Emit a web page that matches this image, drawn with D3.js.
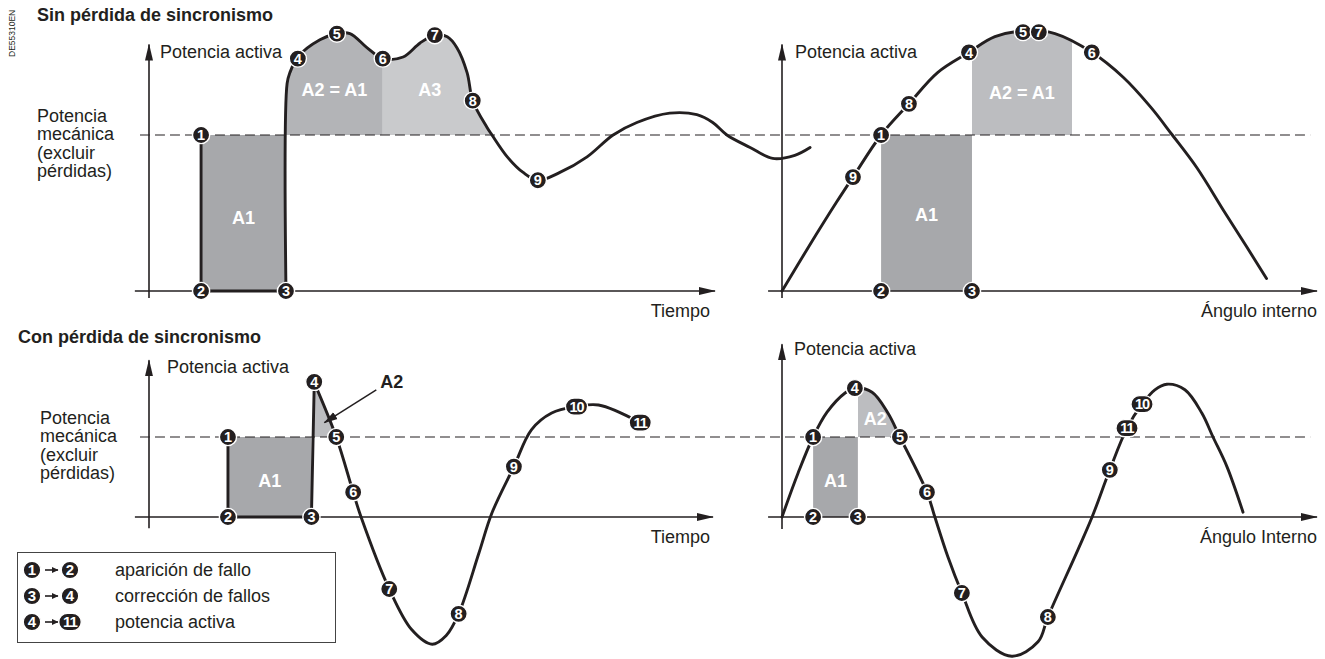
<!DOCTYPE html>
<html><head><meta charset="utf-8">
<script src="https://cdn.jsdelivr.net/npm/d3@7"></script>
<style>
body{margin:0;background:#fff}
svg{display:block}
text{font-family:"Liberation Sans",Arial,Helvetica,sans-serif;fill:#231f20}
</style>
</head><body>
<svg id="chart" width="1325" height="659"></svg>
<script>
// ---------------- DATA ----------------
// Top-left: power vs time, no loss of synchronism (t in arbitrary units, P in p.u. of mechanical power)
const tlEdge  = [[9.2,1],[9.2,0],[24.2,0]];
const tlCurve = [[24.2,0],[24.4,1.33],[24.9,1.40],[26.3,1.50],[30.2,1.61],[33.2,1.65],[35.5,1.65],[38.5,1.56],[41.3,1.49],[44.9,1.50],[47.9,1.59],[50.5,1.64],[52.7,1.63],[54.4,1.56],[56.2,1.40],[57.2,1.22],[59.7,1.05],[60.6,1.0],[63.3,0.86],[66.1,0.76],[68.7,0.71],[72.6,0.76],[77.4,0.86],[82.0,1.0],[86.2,1.08],[92.0,1.14],[96.8,1.13],[99.6,1.08],[102.1,1.0],[106.2,0.92],[110.2,0.85],[114.1,0.87],[116.8,0.92]];
const tlMarkers = [["1",9.2,1],["2",9.2,0],["3",24.2,0],["4",26.3,1.49],["5",33.2,1.65],["6",41.3,1.49],["7",50.5,1.64],["8",57.2,1.22],["9",68.7,0.71]];
const tlA1 = [9.2,24.2];          // t range of A1
const tlA2 = [24.2,41.3];         // t range of A2 = A1
const tlA3 = [41.3,60.6];         // t range of A3

// Top-right: power vs internal angle (degrees)
const trCurve = [[0,0],[10,0.29],[20,0.57],[26,0.73],[36.3,1.0],[46.5,1.2],[57,1.40],[68.5,1.53],[78,1.63],[90,1.67],[100,1.65],[113.5,1.53],[125,1.37],[135,1.18],[143,1.0],[152,0.79],[162,0.51],[170,0.29],[177.5,0.08]];
const trMarkers = [["9",26,0.73],["1",36.3,1.0],["8",46.5,1.2],["4",68.5,1.53],["5",88.3,1.66],["7",94.1,1.66],["6",113.5,1.53],["2",36.3,0],["3",69.6,0]];
const trA1 = [36.3,69.6];
const trA2 = [69.6,106.2];

// Bottom-left: power vs time, loss of synchronism
const blEdge  = [[14.0,1],[14.0,0],[28.8,0],[29.3,1.68]];
const blCurve = [[29.3,1.68],[33.2,1.0],[36.2,0.31],[37.6,0],[42.6,-0.90],[46.6,-1.41],[50.2,-1.59],[52.7,-1.48],[54.9,-1.21],[58.5,-0.45],[60.8,0.05],[64.7,0.63],[67.8,1.09],[71.4,1.30],[75.8,1.38],[79.7,1.40],[87.1,1.18]];
const blMarkers = [["1",14.0,1],["2",14.0,0],["3",28.8,0],["4",29.3,1.69],["5",33.2,1.0],["6",36.2,0.31],["7",42.6,-0.90],["8",54.9,-1.21],["9",64.7,0.63],["10",75.8,1.38],["11",87.1,1.18]];
const blA1 = [14.0,28.8];
const blA2 = [[29.1,1],[29.3,1.68],[33.2,1.0]];
const blArrow = [[40.3,1.59],[31.1,1.18]];

// Bottom-right: power vs internal angle, loss of synchronism
const brCurve = [[0,0],[5.9,0.55],[11.4,1.0],[16.5,1.31],[23.1,1.55],[26.7,1.61],[33.0,1.56],[38.8,1.30],[43.2,1.0],[53.1,0.31],[56.0,0],[60.8,-0.5],[65.9,-0.95],[73.3,-1.5],[84.2,-1.74],[93.8,-1.56],[97.4,-1.25],[108.4,-0.41],[113.6,0],[120.1,0.59],[126.4,1.11],[131.9,1.41],[136.6,1.59],[141.0,1.66],[147.6,1.59],[153.8,1.30],[157.9,1.0],[163.0,0.63],[168.9,0.06]];
const brMarkers = [["1",11.4,1],["2",11.4,0],["3",27.8,0],["4",26.7,1.61],["5",43.2,1.0],["6",53.1,0.31],["7",65.9,-0.95],["8",97.4,-1.25],["9",120.1,0.59],["11",126.4,1.11],["10",131.9,1.41]];
const brA1 = [11.4,27.8];
const brA2 = [27.8,43.2];

// Texts
const titles = ["Sin pérdida de sincronismo","Con pérdida de sincronismo"];
const yLabel = "Potencia activa";
const mechLabel = ["Potencia","mecánica","(excluir","pérdidas)"];
const xLabels = ["Tiempo","Ángulo interno","Tiempo","Ángulo Interno"];
const legendRows = [["1","2","aparición de fallo"],["3","4","corrección de fallos"],["4","11","potencia activa"]];
const docCode = "DE55310EN";

// ---------------- DRAWING ----------------
const svg = d3.select("#chart");
const INK = "#231f20";
svg.append("rect").attr("width",1325).attr("height",659).attr("fill","#fff");

const defs = svg.append("defs");
defs.append("marker").attr("id","ah").attr("markerUnits","userSpaceOnUse")
  .attr("viewBox","0 -5 17 10").attr("refX",16).attr("refY",0)
  .attr("markerWidth",17).attr("markerHeight",10).attr("orient","auto")
  .append("path").attr("d","M0,-4L17,0L0,4Z").attr("fill",INK);
defs.append("marker").attr("id","ahs").attr("markerUnits","userSpaceOnUse")
  .attr("viewBox","0 -5 14 10").attr("refX",13).attr("refY",0)
  .attr("markerWidth",14).attr("markerHeight",10).attr("orient","auto")
  .append("path").attr("d","M0,-4L14,0L0,4Z").attr("fill",INK);
defs.append("marker").attr("id","aht").attr("markerUnits","userSpaceOnUse")
  .attr("viewBox","0 -4 7 8").attr("refX",6.5).attr("refY",0)
  .attr("markerWidth",7).attr("markerHeight",8).attr("orient","auto")
  .append("path").attr("d","M0,-3.2L7,0L0,3.2Z").attr("fill",INK);

const tl = {x:d3.scaleLinear([0,100],[149,715]), y:d3.scaleLinear([0,1],[291,135])};
const tr = {x:d3.scaleLinear([0,196],[782,1317]), y:d3.scaleLinear([0,1],[291,135])};
const bl = {x:d3.scaleLinear([0,100],[149,713]), y:d3.scaleLinear([0,1],[517,437])};
const br = {x:d3.scaleLinear([0,196],[782,1317]), y:d3.scaleLinear([0,1],[517,437])};

const gFill = svg.append("g"), gAxes = svg.append("g"), gLines = svg.append("g"),
      gMarks = svg.append("g"), gText = svg.append("g");

const smooth = d3.curveCatmullRom.alpha(0.5);
function lineOf(p, curve){ return d3.line().x(d=>p.x(d[0])).y(d=>p.y(d[1])).curve(curve||d3.curveLinear); }

// clip helper in data coords
let clipN = 0;
function clipRect(p, x0, x1, y0, y1){
  const id = "cl"+(clipN++);
  defs.append("clipPath").attr("id",id).append("rect")
    .attr("x",p.x(x0)).attr("width",p.x(x1)-p.x(x0))
    .attr("y",p.y(y1)).attr("height",p.y(y0)-p.y(y1));
  return "url(#"+id+")";
}
function areaAbove(p, data, xr, fill){
  gFill.append("path").datum(data)
    .attr("d", d3.area().x(d=>p.x(d[0])).y0(p.y(1)).y1(d=>p.y(d[1])).curve(smooth))
    .attr("fill",fill).attr("clip-path", clipRect(p, xr[0], xr[1], 1, 3));
}
function rectA1(p, xr, fill){
  gFill.append("rect").attr("x",p.x(xr[0])).attr("width",p.x(xr[1])-p.x(xr[0]))
    .attr("y",p.y(1)).attr("height",p.y(0)-p.y(1)).attr("fill",fill);
}

const C_A1 = "#a7a8ab", C_A2 = "#b3b4b7", C_A3 = "#c9cacc", C_R2 = "#bcbdc0";

// fills
rectA1(tl, tlA1, C_A1);
areaAbove(tl, tlCurve, tlA2, C_A2);
areaAbove(tl, tlCurve, tlA3, C_A3);
rectA1(tr, trA1, C_A1);
areaAbove(tr, trCurve, trA2, C_R2);
rectA1(bl, blA1, C_A1);
gFill.append("path").datum(blA2).attr("d", lineOf(bl)).attr("fill",C_R2);
rectA1(br, brA1, C_A1);
areaAbove(br, brCurve, brA2, C_R2);

// dashed mechanical power lines
gAxes.append("line").attr("x1",tl.x(-1.6)).attr("x2",tr.x(193.5)).attr("y1",tl.y(1)).attr("y2",tl.y(1))
  .attr("stroke",INK).attr("stroke-width",1.2).attr("stroke-dasharray","10,5");
gAxes.append("line").attr("x1",bl.x(-1.6)).attr("x2",br.x(193.5)).attr("y1",bl.y(1)).attr("y2",bl.y(1))
  .attr("stroke",INK).attr("stroke-width",1.2).attr("stroke-dasharray","10,5");

// axes with arrows
function axes(p, xFrom, xTo, yFrom, yTo){
  gAxes.append("line").attr("x1",p.x(xFrom)).attr("x2",p.x(xTo)).attr("y1",p.y(0)).attr("y2",p.y(0))
    .attr("stroke",INK).attr("stroke-width",1.6).attr("marker-end","url(#ah)");
  gAxes.append("line").attr("x1",p.x(0)).attr("x2",p.x(0)).attr("y1",p.y(yFrom)).attr("y2",p.y(yTo))
    .attr("stroke",INK).attr("stroke-width",1.6).attr("marker-end","url(#ah)");
}
axes(tl, -2.5, 100, -0.045, 1.58);
axes(tr, -5.1, 196, -0.045, 1.58);
axes(bl, -2.5, 100, -0.14, 1.96);
axes(br, -5.1, 196, -0.15, 2.16);

// curves
function stroke(p, data, curve){
  gLines.append("path").datum(data).attr("d", lineOf(p, curve))
    .attr("fill","none").attr("stroke",INK).attr("stroke-width",2.9)
    .attr("stroke-linejoin","round").attr("stroke-linecap","round");
}
stroke(tl, tlEdge);
stroke(tl, tlCurve, smooth);
stroke(tr, trCurve, smooth);
stroke(bl, blEdge);
stroke(bl, blCurve, smooth);
stroke(br, brCurve, smooth);

// A2 annotation arrow
gLines.append("line").attr("x1",bl.x(blArrow[0][0])).attr("y1",bl.y(blArrow[0][1]))
  .attr("x2",bl.x(blArrow[1][0])).attr("y2",bl.y(blArrow[1][1]))
  .attr("stroke",INK).attr("stroke-width",1.5).attr("marker-end","url(#ahs)");

// numbered markers
function badge(g, cx, cy, label, r, fs){
  const two = label.length > 1;
  if (two) {
    g.append("rect").attr("x",cx-r-2.5).attr("y",cy-r).attr("width",2*r+5).attr("height",2*r)
      .attr("rx",r).attr("fill",INK).attr("stroke","#fff").attr("stroke-width",1.4);
  } else {
    g.append("circle").attr("cx",cx).attr("cy",cy).attr("r",r)
      .attr("fill",INK).attr("stroke","#fff").attr("stroke-width",1.4);
  }
  g.append("text").attr("x",cx).attr("y",cy).attr("dy","0.36em").attr("text-anchor","middle")
    .attr("font-size",fs).attr("font-weight","bold").style("fill","#fff")
    .attr("letter-spacing", two ? -1 : 0).text(label);
}
function markers(p, list){
  list.forEach(m => badge(gMarks, p.x(m[1]), p.y(m[2]), m[0], 8.6, 14.5));
}
markers(tl, tlMarkers);
markers(tr, trMarkers);
markers(bl, blMarkers);
markers(br, brMarkers);

// area labels
function areaLabel(p, x, y, txt, color){
  gText.append("text").attr("x",p.x(x)).attr("y",p.y(y)).attr("dy","0.35em").attr("text-anchor","middle")
    .attr("font-size",18).attr("font-weight","bold").style("fill",color||"#fff").text(txt);
}
areaLabel(tl, (tlA1[0]+tlA1[1])/2, 0.47, "A1");
areaLabel(tl, (tlA2[0]+tlA2[1])/2, 1.29, "A2 = A1");
areaLabel(tl, 49.6, 1.29, "A3");
areaLabel(tr, (trA1[0]+trA1[1])/2, 0.49, "A1");
areaLabel(tr, (trA2[0]+trA2[1])/2, 1.27, "A2 = A1");
areaLabel(bl, (blA1[0]+blA1[1])/2, 0.46, "A1");
areaLabel(br, (brA1[0]+brA1[1])/2, 0.45, "A1");
areaLabel(br, 34.2, 1.23, "A2");
gText.append("text").attr("x",bl.x(41.0)).attr("y",bl.y(1.69)).attr("dy","0.35em")
  .attr("font-size",18).attr("font-weight","bold").text("A2");

// titles and labels
gText.append("text").attr("transform","translate(15,57) rotate(-90)").attr("font-size",8.5).text(docCode);
gText.append("text").attr("x",37).attr("y",21).attr("font-size",18).attr("font-weight","bold").text(titles[0]);
gText.append("text").attr("x",18).attr("y",343).attr("font-size",18).attr("font-weight","bold").text(titles[1]);

[[tl,160,58],[tr,795,58],[bl,167,373],[br,794,355]].forEach(a=>{
  gText.append("text").attr("x",a[1]).attr("y",a[2]).attr("font-size",18).text(yLabel);
});
function mech(x, y0){
  const t = gText.append("text").attr("font-size",18);
  mechLabel.forEach((s,i)=> t.append("tspan").attr("x",x).attr("y",y0+i*18.3).text(s));
}
mech(37,122);
mech(40,424);

[[710,317],[1317,317],[710,543],[1317,543]].forEach((a,i)=>{
  gText.append("text").attr("x",a[0]).attr("y",a[1]).attr("font-size",18).attr("text-anchor","end").text(xLabels[i]);
});

// legend
const lg = svg.append("g");
lg.append("rect").attr("x",17.5).attr("y",552.5).attr("width",318).attr("height",90)
  .attr("fill","#fff").attr("stroke","#444").attr("stroke-width",1);
legendRows.forEach((r,i)=>{
  const cy = 570 + i*26;
  badge(lg, 32, cy, r[0], 8.8, 15);
  lg.append("line").attr("x1",45).attr("x2",58).attr("y1",cy).attr("y2",cy)
    .attr("stroke",INK).attr("stroke-width",1.6).attr("marker-end","url(#aht)");
  badge(lg, 70, cy, r[1], 8.8, 15);
  lg.append("text").attr("x",115).attr("y",cy).attr("dy","0.35em").attr("font-size",18).text(r[2]);
});
</script>
</body></html>
